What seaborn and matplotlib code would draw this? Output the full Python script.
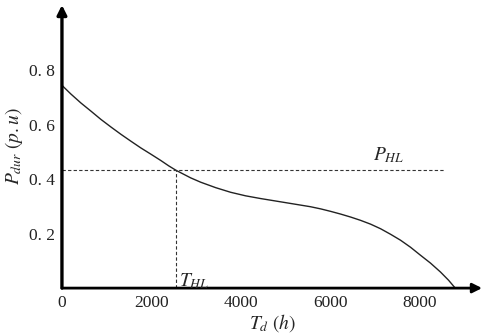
import pandas as pd
import matplotlib.pyplot as plt
import seaborn as sns

# 负荷持续曲线
hours = [0, 200, 425, 650, 870, 1095, 1320, 1540, 1765, 1990, 2210, 2390,
         2550, 2880, 3105, 3440, 3775, 4110, 4445, 4780, 5115, 5560, 5790,
         6010, 6235, 6460, 6680, 6905, 7130, 7350, 7575, 7800, 8020, 8245,
         8470, 8650, 8800]
p_dur = [0.745, 0.713, 0.680, 0.650, 0.620, 0.592, 0.565, 0.540, 0.515,
         0.492, 0.469, 0.449, 0.433, 0.405, 0.389, 0.369, 0.352, 0.339,
         0.329, 0.320, 0.311, 0.299, 0.291, 0.282, 0.272, 0.261, 0.249,
         0.235, 0.218, 0.198, 0.176, 0.150, 0.121, 0.092, 0.059, 0.029, 0.0]
t_hl = 2550
p_hl = 0.433
p_hl_end = 8580
xticks = [0, 2000, 4000, 6000, 8000]
yticks = [0.2, 0.4, 0.6, 0.8]
ytick_labels = ['0. 2', '0. 4', '0. 6', '0. 8']

sns.set_style('white')
plt.rcParams['font.family'] = ['Liberation Serif', 'DejaVu Serif']
plt.rcParams['mathtext.fontset'] = 'stix'

df = pd.DataFrame({'Td': hours, 'Pdur': p_dur})

fig = plt.figure(figsize=(4.84, 3.35), dpi=100)
ax = fig.add_axes([0.128, 0.14, 0.868, 0.845])

sns.lineplot(data=df, x='Td', y='Pdur', color='#222222', lw=1.0, ax=ax)
ax.plot([0, p_hl_end], [p_hl, p_hl], ls=(0, (3, 2)), color='#333333', lw=0.8)
ax.plot([t_hl, t_hl], [0, p_hl], ls=(0, (3, 2)), color='#333333', lw=0.8)

ax.set_xlim(0, 9400)
ax.set_ylim(0, 1.04)
ax.set_xticks(xticks)
ax.set_yticks(yticks)
ax.set_yticklabels(ytick_labels)
ax.tick_params(length=0, labelsize=12.5, pad=5, labelcolor='#222222')
ax.set_xlabel(r'$T_d\ (h)$', fontsize=14, labelpad=1)
ax.set_ylabel(r'$P_{dur}\ (p.u)$', fontsize=14, labelpad=3)

for s in ax.spines.values():
    s.set_visible(False)
# 带箭头的坐标轴
ax.annotate('', xy=(1.0, 0), xytext=(0, 0), xycoords='axes fraction',
            arrowprops=dict(arrowstyle='-|>', color='black', lw=2,
                            mutation_scale=14, shrinkA=0, shrinkB=0))
ax.annotate('', xy=(0, 1.0), xytext=(0, 0), xycoords='axes fraction',
            arrowprops=dict(arrowstyle='-|>', color='black', lw=2.4,
                            mutation_scale=14, shrinkA=0, shrinkB=0))

ax.text(6970, 0.47, r'$P_{HL}$', fontsize=14)
ax.text(2620, 0.008, r'$T_{HL}$', fontsize=14)

plt.savefig('out.png', dpi=100)
